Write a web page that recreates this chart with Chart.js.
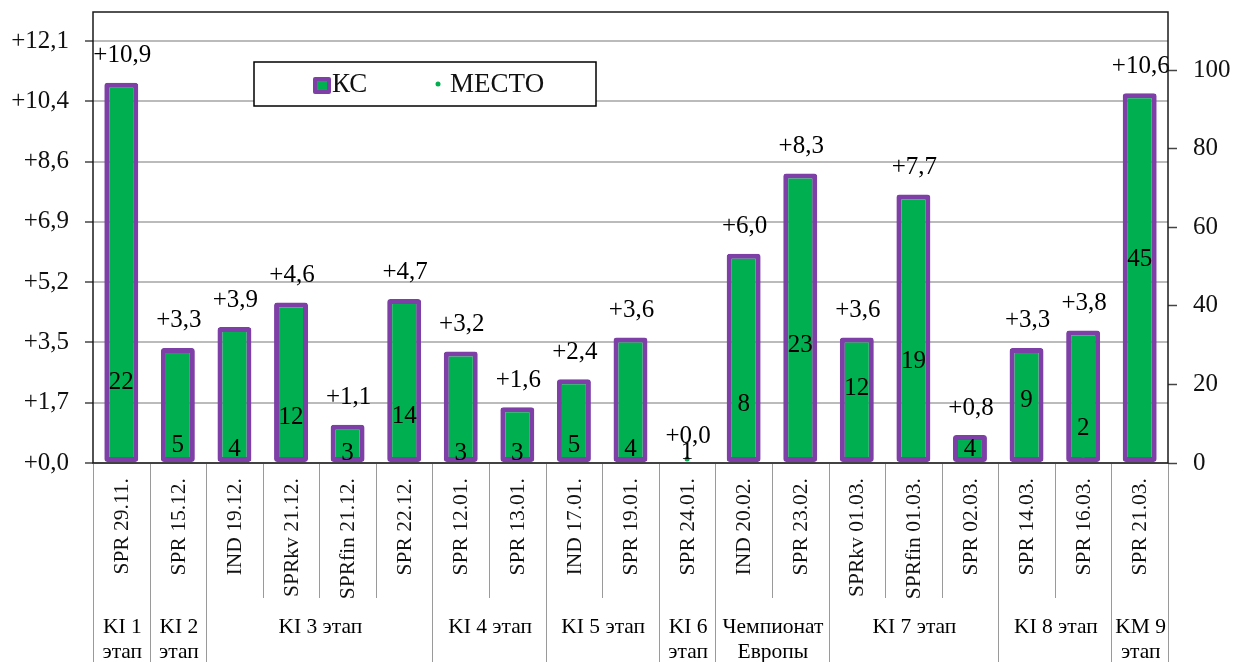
<!DOCTYPE html>
<html><head><meta charset="utf-8">
<script src="https://cdn.jsdelivr.net/npm/chart.js@4.4.1/dist/chart.umd.min.js"></script>
<style>html,body{margin:0;padding:0;background:#fff;overflow:hidden}#wrap{width:1238px;height:662px;position:relative}</style>
</head><body><div id="wrap"><canvas id="c"></canvas></div>
<script>
// ---------- DATA ----------
const categories = ['SPR 29.11.','SPR 15.12.','IND 19.12.','SPRkv 21.12.','SPRfin 21.12.','SPR 22.12.','SPR 12.01.','SPR 13.01.','IND 17.01.','SPR 19.01.','SPR 24.01.','IND 20.02.','SPR 23.02.','SPRkv 01.03.','SPRfin 01.03.','SPR 02.03.','SPR 14.03.','SPR 16.03.','SPR 21.03.'];
const ksValues = [10.9,3.3,3.9,4.6,1.1,4.7,3.2,1.6,2.4,3.6,0.0,6.0,8.3,3.6,7.7,0.8,3.3,3.8,10.6];
const mestoValues = [22,5,4,12,3,14,3,3,5,4,1,8,23,12,19,4,9,2,45];
const groupLabels = [['KI 1','этап'],['KI 2','этап'],['KI 3 этап'],['KI 4 этап'],['KI 5 этап'],['KI 6','этап'],['Чемпионат','Европы'],['KI 7 этап'],['KI 8 этап'],['KM 9','этап']];
const groupSizes = [1,1,4,2,2,1,2,3,2,1];
const leftTickLabels = ['+0,0','+1,7','+3,5','+5,2','+6,9','+8,6','+10,4','+12,1'];
const rightTickLabels = ['0','20','40','60','80','100'];
const seriesNames = ['КС','МЕСТО'];

// ---------- STYLE ----------
const GREEN = '#00B050', PURPLE = '#7E3FA6';
const SERIF = '"Liberation Serif","Times New Roman",serif';
const LEFT_STEP = 12.1/7, RIGHT_STEP = 20;
const mestoLabelShift = {0:6,5:8,10:-7,11:-27,12:-27,13:-27,14:-27,16:-27,17:-27,18:-27}; // label placement style
const fmtKS = v => '+' + v.toFixed(1).replace('.', ',');

const overlay = {
  id: 'overlay',
  afterDatasetsDraw(chart) {
    const ctx = chart.ctx;
    ctx.save();
    ctx.fillStyle = '#000';
    ctx.textAlign = 'center';
    ctx.textBaseline = 'middle';
    ctx.font = '25px ' + SERIF;
    chart.getDatasetMeta(0).data.forEach((el, i) => {
      ctx.fillText(fmtKS(ksValues[i]), el.x + 1, el.y - 27);
    });
    chart.getDatasetMeta(1).data.forEach((el, i) => {
      const dy = (i in mestoLabelShift) ? mestoLabelShift[i] : 2;
      ctx.fillText(String(mestoValues[i]), el.x, el.y + dy);
    });
    ctx.restore();
  },
  afterDraw(chart) {
    const ctx = chart.ctx, ca = chart.chartArea, xs = chart.scales.x;
    const n = categories.length, step = (ca.right - ca.left) / n;
    ctx.save();
    // plot border
    ctx.strokeStyle = '#1a1a1a'; ctx.lineWidth = 1.5;
    ctx.strokeRect(ca.left, ca.top, ca.right - ca.left, ca.bottom - ca.top);
    // separators
    const groupEdges = new Set([0]);
    let acc = 0; groupSizes.forEach(s => { acc += s; groupEdges.add(acc); });
    ctx.strokeStyle = '#9a9a9a'; ctx.lineWidth = 1;
    for (let k = 0; k <= n; k++) {
      const px = Math.round(ca.left + k * step) + 0.5;
      ctx.beginPath();
      ctx.moveTo(px, ca.bottom + 1);
      ctx.lineTo(px, groupEdges.has(k) ? 662 : 598);
      ctx.stroke();
    }
    // category labels (rotated)
    ctx.fillStyle = '#111';
    ctx.font = '21.5px ' + SERIF;
    ctx.textAlign = 'right'; ctx.textBaseline = 'middle';
    categories.forEach((c, i) => {
      const cx = xs.getPixelForValue(i);
      ctx.save();
      ctx.translate(cx + 1, 478);
      ctx.rotate(-Math.PI / 2);
      ctx.fillText(c, 0, 0);
      ctx.restore();
    });
    // group labels
    ctx.textAlign = 'center';
    ctx.fillStyle = '#000';
    ctx.font = '21.5px ' + SERIF;
    let start = 0;
    groupSizes.forEach((s, g) => {
      const cx = ca.left + (start + s / 2) * step;
      groupLabels[g].forEach((line, li) => ctx.fillText(line, cx + 1, 627 + li * 25));
      start += s;
    });
    // legend
    ctx.fillStyle = '#fff';
    ctx.fillRect(254, 62, 342, 44);
    ctx.strokeStyle = '#000'; ctx.lineWidth = 1.5;
    ctx.strokeRect(254, 62, 342, 44);
    ctx.fillStyle = PURPLE;
    ctx.beginPath(); ctx.roundRect(313, 77, 18, 17, 2); ctx.fill();
    ctx.fillStyle = GREEN; ctx.fillRect(317, 81, 10, 9);
    ctx.beginPath(); ctx.arc(438, 84, 2.5, 0, Math.PI * 2); ctx.fill();
    ctx.fillStyle = '#111'; ctx.font = '27px ' + SERIF; ctx.textAlign = 'left';
    ctx.fillText(seriesNames[0], 332, 85);
    ctx.fillText(seriesNames[1], 450, 85);
    ctx.restore();
  }
};

new Chart(document.getElementById('c'), {
  data: {
    labels: categories,
    datasets: [
      { type: 'bar', label: seriesNames[0], data: ksValues, yAxisID: 'y', order: 2,
        backgroundColor: GREEN, borderColor: PURPLE, borderWidth: 5, borderRadius: 3,
        borderSkipped: false, barPercentage: 0.6, categoryPercentage: 1 },
      { type: 'line', label: seriesNames[1], data: mestoValues, yAxisID: 'y2', order: 1,
        showLine: false, pointRadius: 2.5, pointBackgroundColor: GREEN, pointBorderColor: GREEN, pointBorderWidth: 0 }
    ]
  },
  options: {
    responsive: true, maintainAspectRatio: false, animation: false, devicePixelRatio: 1,
    layout: { padding: { top: 12, left: 0, right: 0, bottom: 0 } },
    plugins: { legend: { display: false }, tooltip: { enabled: false } },
    scales: {
      x: {
        grid: { display: false }, border: { display: false },
        ticks: { display: false },
        afterFit(s) { s.height = 199; s.paddingLeft = 0; s.paddingRight = 0; }
      },
      y: {
        position: 'left', min: 0, max: 12.93,
        afterBuildTicks(s) { s.ticks = leftTickLabels.map((t, i) => ({ value: i * LEFT_STEP })); },
        ticks: { callback: (v, i) => leftTickLabels[i], font: { family: SERIF, size: 25 }, color: '#111', padding: 16 },
        grid: { color: '#BBBBBB', lineWidth: 2, tickColor: '#444', tickLength: 8, tickWidth: 1.5 },
        border: { display: false },
        afterFit(s) { s.width = 93; s.paddingTop = 0; s.paddingBottom = 0; }
      },
      y2: {
        position: 'right', min: 0, max: 114.8,
        afterBuildTicks(s) { s.ticks = rightTickLabels.map((t, i) => ({ value: i * RIGHT_STEP })); },
        ticks: { callback: (v, i) => rightTickLabels[i], font: { family: SERIF, size: 25 }, color: '#111', padding: 16 },
        grid: { drawOnChartArea: false, tickColor: '#444', tickLength: 9, tickWidth: 1.5 },
        border: { display: false },
        afterFit(s) { s.width = 70; s.paddingTop = 0; s.paddingBottom = 0; }
      }
    }
  },
  plugins: [overlay]
});
</script></body></html>
